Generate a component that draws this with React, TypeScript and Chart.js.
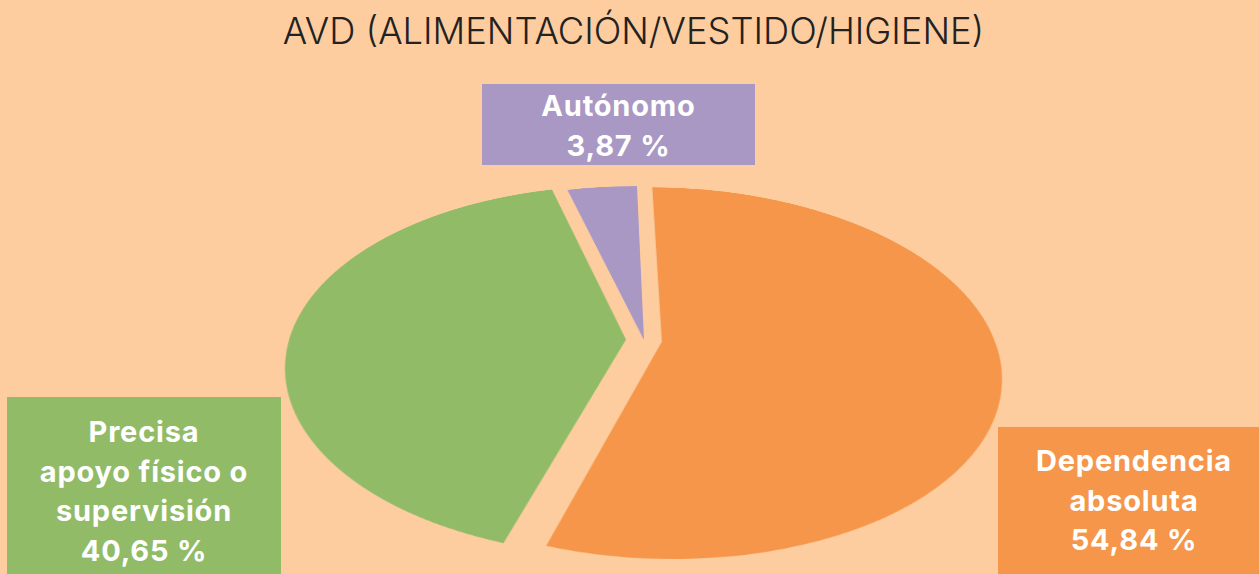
import React, { useEffect, useRef } from "react";
import { Chart, registerables } from "chart.js";

Chart.register(...registerables);

const TITLE = "AVD (ALIMENTACIÓN/VESTIDO/HIGIENE)";
const categories = ["Dependencia absoluta", "Precisa apoyo físico o supervisión", "Autónomo"];
const labelLines = [["Dependencia", "absoluta"], ["Precisa", "apoyo físico o", "supervisión"], ["Autónomo"]];
const values = [54.84, 40.65, 3.87];
const colors = ["#F5964B", "#91BB67", "#A898C3"];
// explosion distance of each slice, in pixels of the pie plane
const explode = [18, 18, 0];

const BG = "#FDCD9F";
const PIE_PAD = 18;
const PIE_SIZE = 335 * 2 + PIE_PAD * 2;
const PIE_CX = 644;
const PIE_CY = 340;
const PIE_TRANSFORM = "perspective(1662px) rotateY(1.66deg) rotateX(57.5deg)";

// label box layout: [left, top, width, height, paddingTop]
const boxLayout = [
  [998, 427, 272, 160, 14],
  [7, 397, 274, 190, 15],
  [482, 84, 273, 81, 2],
];

const fmt = (v: number) => v.toFixed(2).replace(".", ",") + " %";

// draws each arc element of the pie pushed out along its bisector
const explodePlugin = {
  id: "explodeSlices",
  beforeDatasetDraw(chart: any, args: any) {
    const meta = chart.getDatasetMeta(args.index);
    const ctx = chart.ctx;
    meta.data.forEach((el: any, i: number) => {
      const mid = (el.startAngle + el.endAngle) / 2;
      const d = explode[i] || 0;
      ctx.save();
      ctx.translate(Math.cos(mid) * d, Math.sin(mid) * d);
      el.draw(ctx, chart.chartArea);
      ctx.restore();
    });
    return false;
  },
};

export default function App() {
  const ref = useRef<HTMLCanvasElement | null>(null);

  useEffect(() => {
    document.body.style.margin = "0";
    if (!ref.current) return;
    const chart = new Chart(ref.current, {
      type: "pie",
      data: {
        labels: categories,
        datasets: [
          {
            data: values,
            backgroundColor: colors,
            borderWidth: 0,
            offset: 0,
            hoverOffset: 0,
          },
        ],
      },
      options: {
        animation: false,
        responsive: false,
        devicePixelRatio: 1,
        rotation: 0,
        layout: { padding: PIE_PAD },
        events: [],
        plugins: {
          legend: { display: false },
          tooltip: { enabled: false },
          title: { display: false },
        },
      },
      plugins: [explodePlugin],
    });
    return () => chart.destroy();
  }, []);

  return (
    <div
      style={{
        position: "absolute",
        left: 0,
        top: 0,
        width: 1259,
        height: 574,
        overflow: "hidden",
        background: BG,
      }}
    >
      <div
        style={{
          position: "absolute",
          left: PIE_CX - PIE_SIZE / 2,
          top: PIE_CY - PIE_SIZE / 2,
          width: PIE_SIZE,
          height: PIE_SIZE,
          transformOrigin: "50% 50%",
          transform: PIE_TRANSFORM,
        }}
      >
        <canvas ref={ref} width={PIE_SIZE} height={PIE_SIZE} style={{ display: "block" }} />
      </div>
      <div
        style={{
          position: "absolute",
          left: 633.5,
          top: 12.5,
          transform: "translateX(-50%)",
          whiteSpace: "nowrap",
          fontFamily: "Inter, Roboto, sans-serif",
          fontWeight: 300,
          fontSize: 36.3,
          lineHeight: "37px",
          color: "#222222",
        }}
      >
        {TITLE}
      </div>
      {labelLines.map((lines, i) => {
        const [l, t, w, h, pt] = boxLayout[i];
        return (
          <div
            key={i}
            style={{
              position: "absolute",
              left: l,
              top: t,
              width: w,
              height: h,
              boxSizing: "border-box",
              paddingTop: pt,
              background: colors[i],
              color: "#FFFFFF",
              fontFamily: "Inter, Roboto, sans-serif",
              fontWeight: 700,
              fontSize: 29,
              letterSpacing: "0.8px",
              lineHeight: "39.5px",
              textAlign: "center",
              whiteSpace: "nowrap",
            }}
          >
            {lines.map((s, j) => (
              <div key={j}>{s}</div>
            ))}
            <div>{fmt(values[i])}</div>
          </div>
        );
      })}
    </div>
  );
}
